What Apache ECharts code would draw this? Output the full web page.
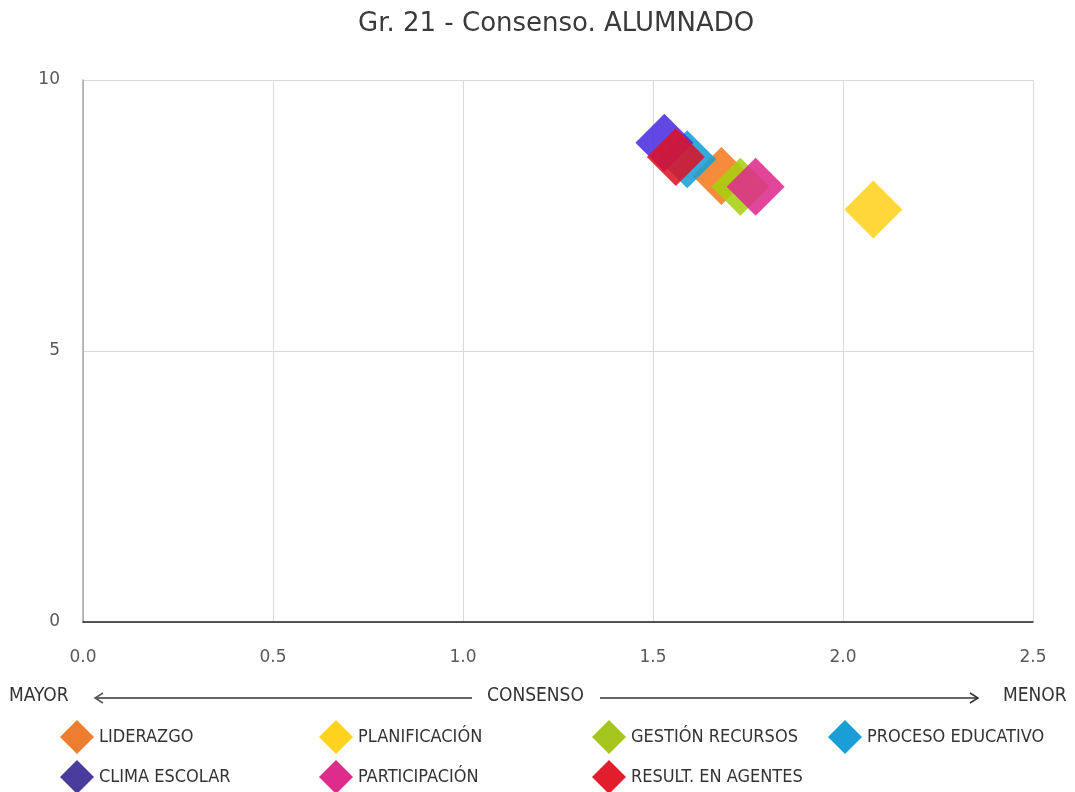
<!DOCTYPE html>
<html>
<head>
<meta charset="utf-8">
<script src="https://cdn.jsdelivr.net/npm/echarts@6/dist/echarts.min.js"></script>
<style>
  html, body { margin: 0; padding: 0; background: #fff; }
  #chart { width: 1075px; height: 792px; }
</style>
</head>
<body>
<div id="chart"></div>
<script>
// categorias (areas evaluadas)
const areas = ['LIDERAZGO', 'PLANIFICACIÓN', 'GESTIÓN RECURSOS', 'PROCESO EDUCATIVO', 'CLIMA ESCOLAR', 'PARTICIPACIÓN', 'RESULT. EN AGENTES']
// consenso (eje x) y valoracion media (eje y)
const consenso = [1.68, 2.08, 1.73, 1.59, 1.53, 1.77, 1.56]
const valoracion = [8.23, 7.61, 8.03, 8.54, 8.84, 8.03, 8.58]
// ticks
const xTicks = [0, 0.5, 1.0, 1.5, 2.0, 2.5]
const yTicks = [0, 5, 10]

const colores = ['#F47B20', '#FFD21F', '#A8D010', '#1A9ED6', '#4B2FE0', '#DE2C8C', '#DC1428']
const coloresLeyenda = ['#ED7D31', '#FFD21F', '#A5C41E', '#1A9ED6', '#4A3C9C', '#DE2C8C', '#E21E2D']

const verdana = '"DejaVu Sans", Verdana, sans-serif'
const condensed = '"Liberation Sans Narrow", "DejaVu Sans Condensed", "Open Sans", sans-serif'

// posiciones de la leyenda (dos filas)
const legendPos = [
  [60, 720], [319, 720], [592, 720], [828, 720],
  [60, 760], [319, 760], [592, 760]
]

let myCharts = echarts.init(document.getElementById('chart'))

let series = areas.map(function (name, i) {
  return {
    name: name,
    type: 'scatter',
    symbol: 'diamond',
    symbolSize: 58,
    data: [[consenso[i], valoracion[i]]],
    itemStyle: {
      color: colores[i],
      opacity: 0.88
    },
    emphasis: { disabled: true }
  }
})

let legends = areas.map(function (name, i) {
  return {
    left: legendPos[i][0],
    top: legendPos[i][1],
    itemWidth: 34,
    itemHeight: 34,
    padding: 0,
    selectedMode: false,
    data: [{
      name: name,
      icon: 'diamond',
      itemStyle: { color: coloresLeyenda[i], opacity: 1 }
    }],
    textStyle: {
      fontFamily: condensed,
      fontSize: 18,
      color: '#333'
    }
  }
})

myCharts.setOption({
  animation: false,
  title: {
    text: 'Gr. 21 - Consenso. ALUMNADO',
    left: 353,
    top: 6,
    textStyle: {
      fontFamily: verdana,
      fontWeight: 'normal',
      fontSize: 26,
      color: '#3a3a3a'
    }
  },
  legend: legends,
  grid: {
    left: 83,
    right: 42,
    top: 80,
    bottom: 170
  },
  xAxis: {
    type: 'value',
    min: xTicks[0],
    max: xTicks[xTicks.length - 1],
    interval: 0.5,
    axisLine: { lineStyle: { color: '#222', width: 1.5 } },
    axisTick: { show: false },
    splitLine: { lineStyle: { color: '#D9D9D9' } },
    axisLabel: {
      margin: 27,
      color: '#595959',
      fontFamily: verdana,
      fontSize: 17,
      formatter: function (value) {
        return value.toFixed(1)
      }
    }
  },
  yAxis: {
    type: 'value',
    min: yTicks[0],
    max: yTicks[yTicks.length - 1],
    interval: 5,
    axisLine: { show: true, lineStyle: { color: '#A6A6A6', width: 1.5 } },
    axisTick: { show: false },
    splitLine: { lineStyle: { color: '#D9D9D9' } },
    axisLabel: {
      margin: 23,
      color: '#595959',
      fontFamily: verdana,
      fontSize: 17
    }
  },
  graphic: [
    {
      type: 'text', left: 9, top: 687,
      style: { text: 'MAYOR', font: '19px ' + condensed, fill: '#333' }
    },
    {
      type: 'text', left: 487, top: 687,
      style: { text: 'CONSENSO', font: '19px ' + condensed, fill: '#333' }
    },
    {
      type: 'text', left: 1003, top: 687,
      style: { text: 'MENOR', font: '19px ' + condensed, fill: '#333' }
    },
    {
      type: 'line',
      shape: { x1: 95, y1: 698, x2: 472, y2: 698 },
      style: { stroke: '#666', lineWidth: 2 }
    },
    {
      type: 'polyline',
      shape: { points: [[103, 693], [95, 698], [103, 703]] },
      style: { stroke: '#555', lineWidth: 1.5, fill: null }
    },
    {
      type: 'line',
      shape: { x1: 600, y1: 698, x2: 978, y2: 698 },
      style: { stroke: '#333', lineWidth: 1.5 }
    },
    {
      type: 'polyline',
      shape: { points: [[970, 693], [978, 698], [970, 703]] },
      style: { stroke: '#333', lineWidth: 1.5, fill: null }
    }
  ],
  series: series
})
</script>
</body>
</html>
